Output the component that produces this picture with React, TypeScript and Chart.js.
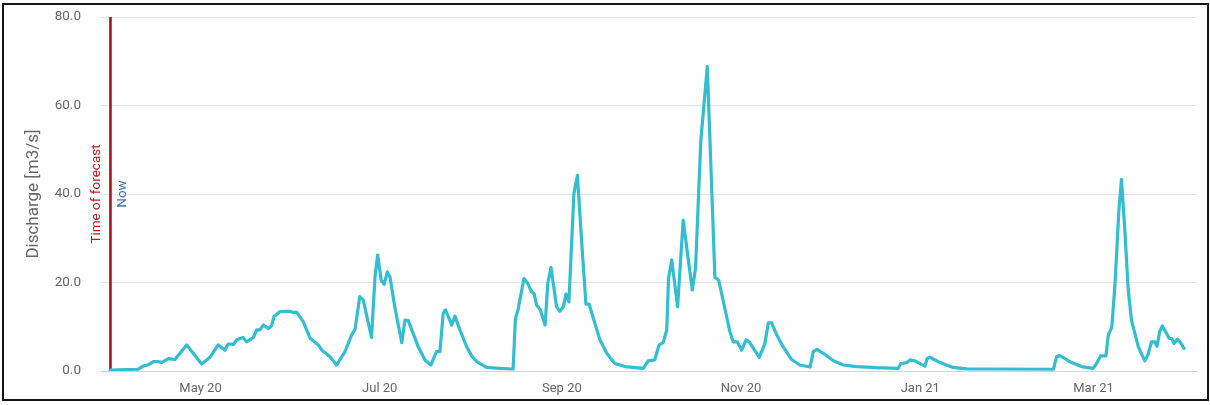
import { useEffect, useRef } from "react";
import { Chart, registerables } from "chart.js";

Chart.register(...registerables);
Chart.defaults.font.family = "Roboto";

// Forecast issue date ("Time of forecast" / "Now")
const forecastDate = "2020-03-31";

// Days since forecast date
const dayOffsets = [
  0.2, 9.8, 11.5, 13.2, 14.9, 16.7, 17.8, 20.1, 21.2, 22.3, 24.0, 26.3, 28.5, 31.4, 34.2, 37.0,
  39.3, 40.4, 42.2, 43.3, 45.4, 46.7, 49.0, 50.1, 51.2, 52.4, 54.1, 55.2, 56.0, 58.0, 61.4,
  62.5, 63.7, 66.0, 68.3, 71.1, 72.3, 75.1, 77.3, 80.2, 82.4, 83.6, 85.2, 86.4, 89.2, 90.4,
  91.3, 92.5, 93.5, 94.6, 95.5, 97.2, 99.5, 100.6, 101.7, 105.1, 107.4, 109.4, 111.3, 112.5,
  113.6, 114.4, 116.5, 117.6, 119.3, 121.6, 123.3, 125.0, 128.4, 132.9, 137.4, 138.2, 139.1,
  141.1, 142.3, 143.7, 144.6, 145.4, 146.6, 148.3, 149.2, 150.3, 152.2, 153.3, 154.5, 155.4,
  156.4, 158.1, 159.3, 160.7, 162.2, 163.3, 165.9, 167.0, 169.3, 171.0, 172.1, 173.8, 175.5,
  181.7, 183.4, 185.6, 187.1, 188.5, 189.7, 190.3, 191.4, 193.4, 195.3, 196.7, 198.4, 199.5,
  201.3, 203.5, 206.1, 207.4, 211.2, 212.3, 213.7, 215.2, 216.7, 217.8, 221.2, 223.1, 224.3,
  225.4, 227.2, 229.3, 232.2, 235.0, 238.5, 239.6, 240.8, 243.0, 246.4, 249.8, 254.3, 261.1,
  268.5, 269.4, 271.4, 272.5, 274.2, 277.6, 278.4, 279.3, 282.7, 287.2, 291.8, 299.7, 321.3,
  322.4, 323.5, 326.9, 330.9, 334.8, 335.7, 337.4, 339.2, 340.0, 341.2, 342.3, 342.9, 343.6,
  344.5, 345.7, 346.8, 347.9, 350.2, 352.4, 353.5, 354.7, 355.8, 356.6, 357.5, 358.4, 359.8,
  360.7, 361.6, 362.4, 363.5, 364.4, 365.8,
];

// Discharge [m3/s]
const discharge = [
  0.2, 0.4, 1.1, 1.4, 2.1, 2.1, 1.95, 2.8, 2.7, 2.6, 4.0, 5.9, 4.0, 1.6, 3.1, 5.9,
  4.7, 6.1, 6.0, 7.0, 7.6, 6.6, 7.6, 9.3, 9.3, 10.4, 9.6, 10.2, 12.3, 13.4, 13.5,
  13.2, 13.3, 11.1, 7.4, 5.9, 4.7, 3.2, 1.35, 4.4, 8.1, 9.4, 16.8, 16.0, 7.6, 21.3,
  26.2, 20.5, 19.6, 22.4, 21.2, 14.2, 6.4, 11.5, 11.4, 5.5, 2.5, 1.35, 4.4, 4.4,
  13.0, 13.8, 10.4, 12.4, 9.3, 5.5, 3.4, 2.1, 0.8, 0.6, 0.45, 11.9, 13.9,
  20.9, 19.9, 17.9, 17.4, 14.9, 13.9, 10.4, 19.8, 23.4, 14.5, 13.5, 14.5, 17.4,
  15.6, 40.1, 44.2, 29.6, 15.1, 15.1, 9.3, 7.0, 4.0, 2.5, 1.7, 1.35, 1.0,
  0.6, 2.3, 2.5, 5.9, 6.4, 9.3, 20.9, 25.1, 14.5, 34.1, 26.9, 18.3, 23.2,
  52.0, 68.8, 21.2, 20.5, 8.9, 6.6, 6.6, 4.7, 7.0, 6.6, 3.1, 6.2, 10.9,
  10.9, 8.1, 5.5, 2.6, 1.35, 0.9, 4.4, 4.9, 4.0, 2.3, 1.35, 1.0, 0.75,
  0.6, 1.7, 1.9, 2.5, 2.3, 1.1, 2.9, 3.1, 1.9, 0.8, 0.5, 0.45, 0.4,
  3.2, 3.5, 2.1, 1.0, 0.6, 1.35, 3.4, 3.4, 8.1, 9.9, 19.8, 27.3, 36.3,
  43.3, 31.1, 18.3, 11.5, 5.5, 2.3, 3.6, 6.6, 6.6, 5.6, 8.9, 10.2, 8.5,
  7.4, 7.3, 6.2, 7.2, 6.6, 5.1,
];

// X-axis month ticks
const monthTickDates = ["2020-05-01", "2020-07-01", "2020-09-01", "2020-11-01", "2021-01-01", "2021-03-01"];
const monthTickLabels = ["May 20", "Jul 20", "Sep 20", "Nov 20", "Jan 21", "Mar 21"];

// Axis extents (days since forecast date / m3/s)
const xRange = [-3.22, 370.2];
const yRange = [0, 80];
const yStep = 20;

const forecastPlugin = {
  id: "forecastLine",
  beforeDatasetsDraw(chart: any) {
    const { ctx, chartArea, scales } = chart;
    const px = scales.x.getPixelForValue(0) + 1;
    const midY = (chartArea.top + chartArea.bottom) / 2;
    ctx.save();
    ctx.strokeStyle = "#aa1121";
    ctx.lineWidth = 2.6;
    ctx.beginPath();
    ctx.moveTo(px, chartArea.top);
    ctx.lineTo(px, chartArea.bottom);
    ctx.stroke();
    ctx.font = "13.5px Roboto";
    ctx.textAlign = "center";
    ctx.textBaseline = "middle";
    ctx.translate(px - 13.5, midY);
    ctx.rotate(-Math.PI / 2);
    ctx.fillStyle = "#b81d24";
    ctx.fillText("Time of forecast", 0, 0);
    ctx.restore();
    ctx.save();
    ctx.font = "13.5px Roboto";
    ctx.textAlign = "center";
    ctx.textBaseline = "middle";
    ctx.translate(px + 12.5, midY);
    ctx.rotate(-Math.PI / 2);
    ctx.fillStyle = "#3f74b3";
    ctx.fillText("Now", 0, 0);
    ctx.restore();
  },
};

export default function App() {
  const ref = useRef<HTMLCanvasElement>(null);

  useEffect(() => {
    document.body.style.margin = "0";
    const base = Date.parse(forecastDate);
    const tickDays = monthTickDates.map((d) => (Date.parse(d) - base) / 86400000);
    const chart = new Chart(ref.current as HTMLCanvasElement, {
      type: "line",
      data: {
        datasets: [
          {
            data: dayOffsets.map((d, i) => ({ x: d, y: discharge[i] })),
            borderColor: "#33bdd1",
            borderWidth: 3.2,
            pointRadius: 0,
            tension: 0,
            fill: false,
            borderJoinStyle: "round",
            borderCapStyle: "round",
          },
        ],
      },
      options: {
        animation: false,
        responsive: false,
        layout: { padding: { top: 17, right: 13, left: 0, bottom: 0 } },
        plugins: { legend: { display: false }, tooltip: { enabled: false } },
        scales: {
          x: {
            type: "linear",
            min: xRange[0],
            max: xRange[1],
            grid: { display: false, drawTicks: false },
            border: { display: true, color: "#ccd6eb", width: 1 },
            afterBuildTicks: (s: any) => {
              s.ticks = tickDays.map((v) => ({ value: v }));
            },
            afterFit: (s: any) => {
              s.height = 34;
              s.paddingLeft = 0;
              s.paddingRight = 0;
            },
            ticks: {
              autoSkip: false,
              maxRotation: 0,
              padding: 10,
              color: "#666666",
              font: { size: 13 },
              callback: (v: any) => {
                const i = tickDays.indexOf(Number(v));
                return i >= 0 ? monthTickLabels[i] : "";
              },
            },
          },
          y: {
            min: yRange[0],
            max: yRange[1],
            grid: { color: "#e6e6e6", drawTicks: false },
            border: { display: false },
            afterFit: (s: any) => {
              s.width = 100;
              s.paddingTop = 0;
              s.paddingBottom = 0;
            },
            ticks: {
              stepSize: yStep,
              padding: 19,
              color: "#666666",
              font: { size: 13.5 },
              callback: (v: any) => Number(v).toFixed(1),
            },
            title: {
              display: true,
              text: "Discharge [m3/s]",
              color: "#666666",
              font: { size: 17 },
              padding: { top: 24, bottom: 0 },
            },
          },
        },
      },
      plugins: [forecastPlugin],
    } as any);
    return () => chart.destroy();
  }, []);

  return (
    <div>
      <canvas
        ref={ref}
        width={1210}
        height={405}
        style={{ position: "fixed", left: 0, top: 0, width: 1210, height: 405 }}
      />
      <div
        style={{
          position: "fixed",
          left: 2,
          top: 3,
          width: 1207,
          height: 398,
          boxSizing: "border-box",
          border: "2px solid #141414",
          pointerEvents: "none",
        }}
      />
    </div>
  );
}
